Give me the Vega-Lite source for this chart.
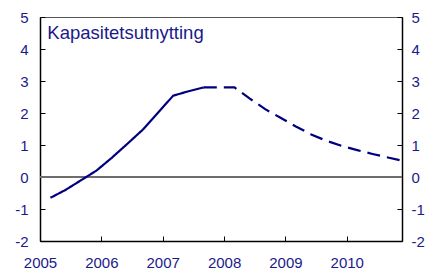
{
  "$schema": "https://vega.github.io/schema/vega-lite/v6.json",
  "width": 362,
  "height": 224,
  "autosize": {"type": "none"},
  "padding": {"left": 40, "top": 17, "right": 24, "bottom": 35},
  "config": {
    "view": {"stroke": "#555555", "strokeWidth": 1},
    "font": "Liberation Sans",
    "axis": {
      "grid": false,
      "title": null,
      "labelColor": "#1a1a8c",
      "labelFont": "Liberation Sans",
      "labelFontSize": 15,
      "domainColor": "#000000",
      "domainWidth": 1.5,
      "tickColor": "#000000",
      "tickWidth": 1,
      "tickSize": -5,
      "labelPadding": 13,
      "labelExpr": "'' + datum.value"
    }
  },
  "data": {
    "values": [
      {"t": 2005.17, "v": -0.65, "s": "faktisk"},
      {"t": 2005.42, "v": -0.40, "s": "faktisk"},
      {"t": 2005.67, "v": -0.10, "s": "faktisk"},
      {"t": 2005.92, "v": 0.20, "s": "faktisk"},
      {"t": 2006.17, "v": 0.60, "s": "faktisk"},
      {"t": 2006.42, "v": 1.03, "s": "faktisk"},
      {"t": 2006.67, "v": 1.47, "s": "faktisk"},
      {"t": 2006.92, "v": 2.00, "s": "faktisk"},
      {"t": 2007.17, "v": 2.54, "s": "faktisk"},
      {"t": 2007.42, "v": 2.68, "s": "faktisk"},
      {"t": 2007.67, "v": 2.80, "s": "faktisk"},
      {"t": 2007.67, "v": 2.80, "s": "anslag"},
      {"t": 2007.92, "v": 2.80, "s": "anslag"},
      {"t": 2008.17, "v": 2.80, "s": "anslag"},
      {"t": 2008.42, "v": 2.45, "s": "anslag"},
      {"t": 2008.67, "v": 2.12, "s": "anslag"},
      {"t": 2008.92, "v": 1.85, "s": "anslag"},
      {"t": 2009.17, "v": 1.58, "s": "anslag"},
      {"t": 2009.42, "v": 1.33, "s": "anslag"},
      {"t": 2009.67, "v": 1.13, "s": "anslag"},
      {"t": 2009.92, "v": 0.97, "s": "anslag"},
      {"t": 2010.17, "v": 0.84, "s": "anslag"},
      {"t": 2010.42, "v": 0.72, "s": "anslag"},
      {"t": 2010.67, "v": 0.61, "s": "anslag"},
      {"t": 2010.92, "v": 0.50, "s": "anslag"}
    ]
  },
  "layer": [
    {
      "mark": {"type": "rule", "color": "#6e6e6e", "strokeWidth": 1.5},
      "encoding": {
        "y": {
          "datum": 0,
          "type": "quantitative",
          "scale": {"domain": [-2, 5], "nice": false, "zero": false},
          "axis": {"orient": "left", "values": [-2, -1, 0, 1, 2, 3, 4, 5], "labelFlush": false, "labelPadding": 17}
        }
      }
    },
    {
      "mark": {"type": "line", "color": "#00007f", "strokeWidth": 2.2},
      "encoding": {
        "x": {
          "field": "t",
          "type": "quantitative",
          "scale": {"domain": [2005, 2010.9], "nice": false, "zero": false},
          "axis": {"values": [2005, 2006, 2007, 2008, 2009, 2010], "labelPadding": 19, "labelFlush": false}
        },
        "y": {
          "field": "v",
          "type": "quantitative",
          "scale": {"domain": [-2, 5], "nice": false, "zero": false},
          "axis": {"orient": "right", "values": [-2, -1, 0, 1, 2, 3, 4, 5], "labelFlush": false, "labelPadding": 14}
        },
        "strokeDash": {
          "field": "s",
          "type": "nominal",
          "scale": {"domain": ["faktisk", "anslag"], "range": [[1, 0], [13, 7]]},
          "legend": null
        }
      }
    },
    {
      "data": {"values": [{"label": "Kapasitetsutnytting", "t": 2005.12, "v": 4.3}]},
      "mark": {"type": "text", "align": "left", "baseline": "alphabetic", "fontSize": 18.5, "color": "#1a1a8c", "font": "Liberation Sans"},
      "encoding": {
        "x": {"field": "t", "type": "quantitative"},
        "y": {"field": "v", "type": "quantitative", "axis": null},
        "text": {"field": "label", "type": "nominal"}
      }
    }
  ],
  "resolve": {"axis": {"y": "independent"}}
}
